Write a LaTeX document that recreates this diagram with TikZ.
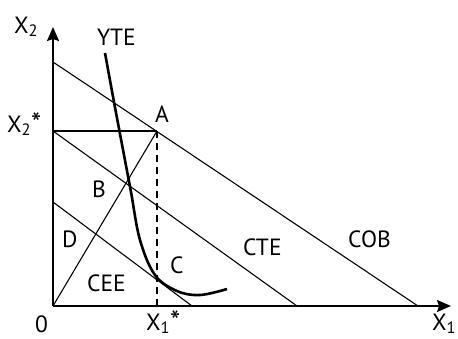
\documentclass[tikz,border=0pt]{standalone}
\usepackage{fontspec}
\setmainfont{PT Sans}
\usetikzlibrary{arrows.meta}
\newcommand{\bigast}{{\fontsize{29}{30}\selectfont\raisebox{-1.5pt}{*}}}
\begin{document}
\begin{tikzpicture}[x=1pt,y=-1pt,
  thinline/.style={line width=1.1pt},
  axisline/.style={line width=1.7pt,-{Stealth[length=14pt,width=12pt,inset=2pt]}},
  curveline/.style={line width=2.6pt},
  lbl/.style={anchor=base west,inner sep=0pt,font=\fontsize{23.5}{26}\selectfont}]
\useasboundingbox (0,0) rectangle (458,338);
\coordinate (O) at (53,306);
\coordinate (Ytop) at (53,27);
\coordinate (Xend) at (451,306);
\coordinate (P1) at (53,62);
\coordinate (Q1) at (418,306);
\coordinate (A) at (157,131);
\coordinate (P2) at (53,131);
\coordinate (Q2) at (297,306);
\coordinate (P3) at (53,202);
\coordinate (Q3) at (192,306);
\coordinate (F) at (157,306);
% lines
\draw[thinline] (P1) -- (Q1);
\draw[thinline] (P2) -- (A);
\draw[thinline] (P2) -- (Q2);
\draw[thinline] (P3) -- (Q3);
\draw[thinline] (O) -- (A);
\draw[thinline,dash pattern=on 7pt off 5pt] (A) -- (F);
% axes
\draw[axisline] (O) -- (Ytop);
\draw[axisline] (O) -- (Xend);
% YTE curve
\draw[curveline] plot[smooth,tension=0.6] coordinates {(105,53) (114,102) (124,155) (131,192) (140,240) (155,275) (177,291) (200,295) (227,289)};
% labels
\node[lbl] (lx2) at (14,33) {X\textsubscript{2}};
\node[lbl] (lyte) at (97,45) {YTE};
\node[lbl] (lx2s) at (7,132) {X\textsubscript{2}\bigast};
\node[lbl] (la) at (155,122) {A};
\node[lbl] (lb) at (92,197) {B};
\node[lbl] (ld) at (62,247) {D};
\node[lbl] (lcee) at (87,291) {CEE};
\node[lbl] (lc) at (170,273) {C};
\node[lbl] (lcte) at (243,255) {CTE};
\node[lbl] (lcob) at (348,247) {COB};
\node[lbl] (l0) at (35,332) {0};
\node[lbl] (lx1s) at (146,330) {X\textsubscript{1}\bigast};
\node[lbl] (lx1) at (432,330) {X\textsubscript{1}};
\end{tikzpicture}
\end{document}
